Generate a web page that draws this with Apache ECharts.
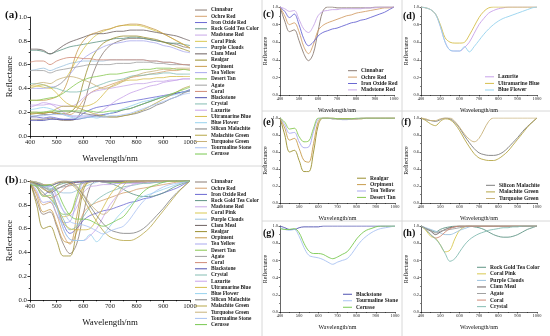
<!DOCTYPE html>
<html>
<head>
<meta charset="utf-8">
<script src="https://cdn.jsdelivr.net/npm/echarts@6/dist/echarts.min.js"></script>
<style>
  html, body { margin: 0; padding: 0; background: #fff; }
  #chart { width: 550px; height: 336px; }
</style>
</head>
<body>
<div id="chart"></div>
<script>
// --- DATA ---
const wl = [400,425,450,475,500,525,550,575,600,625,650,675,700,725,750,775,800,825,850,875,900,925,950,975,1000];

const names = ['Cinnabar','Ochre Red','Iron Oxide Red','Rock Gold Tea Color','Madstone Red','Coral Pink','Purple Clouds','Clam Meal','Realgar','Orpiment','Tea Yellow','Desert Tan','Agate','Coral','Blackstone','Crystal','Lazurite','Ultramarine Blue','Blue Flower','Silicon Malachite','Malachite Green','Turquoise Green','Tourmaline Stone','Cerusse'];
const colors = ['#8a7a72','#d4a06c','#6a68d2','#5f9484','#c8a8e8','#d8c850','#9cc2de','#6c6060','#9a8e2e','#c89c4c','#a8a8ee','#88c850','#a0a0a0','#d08a76','#4e50b0','#84bcb2','#c8a2ea','#d6be4c','#96d2ee','#7e7e7e','#b6a646','#c8b27a','#a8c2f2','#78c850'];

// raw reflectance, panel (a)
const cinnabarRaw = [0.14,0.14,0.14,0.15,0.14,0.13,0.13,0.15,0.25,0.45,0.60,0.70,0.76,0.79,0.81,0.82,0.82,0.82,0.81,0.80,0.79,0.78,0.77,0.75,0.74];
const ochreRaw = [0.20,0.20,0.19,0.20,0.19,0.18,0.18,0.22,0.30,0.36,0.39,0.41,0.43,0.45,0.47,0.49,0.50,0.51,0.52,0.53,0.54,0.55,0.55,0.56,0.56];
const ironRaw = [0.16,0.16,0.15,0.16,0.15,0.14,0.14,0.15,0.19,0.22,0.24,0.25,0.26,0.27,0.28,0.29,0.30,0.31,0.32,0.33,0.34,0.35,0.36,0.37,0.38];
const rockGoldRaw = [0.72,0.72,0.71,0.69,0.71,0.73,0.75,0.76,0.77,0.78,0.79,0.80,0.81,0.82,0.82,0.83,0.83,0.82,0.81,0.80,0.79,0.78,0.78,0.77,0.76];
const madstoneRaw = [0.26,0.26,0.26,0.27,0.26,0.25,0.25,0.27,0.32,0.36,0.38,0.39,0.40,0.41,0.42,0.43,0.44,0.44,0.45,0.46,0.46,0.47,0.47,0.48,0.48];
const coralPinkRaw = [0.42,0.42,0.41,0.40,0.42,0.46,0.54,0.64,0.73,0.80,0.85,0.88,0.90,0.92,0.93,0.93,0.93,0.92,0.90,0.88,0.86,0.83,0.80,0.77,0.74];
const purpleCloudsRaw = [0.55,0.56,0.57,0.55,0.57,0.59,0.61,0.62,0.63,0.63,0.63,0.63,0.64,0.64,0.64,0.64,0.64,0.64,0.63,0.63,0.62,0.62,0.61,0.60,0.60];
const clamMealRaw = [0.73,0.73,0.72,0.69,0.72,0.76,0.79,0.81,0.83,0.85,0.86,0.86,0.87,0.88,0.88,0.89,0.89,0.89,0.88,0.87,0.86,0.85,0.84,0.82,0.80];
const realgarRaw = [0.19,0.19,0.19,0.20,0.19,0.19,0.20,0.26,0.45,0.62,0.72,0.78,0.81,0.83,0.84,0.84,0.84,0.83,0.82,0.81,0.79,0.77,0.75,0.73,0.71];
const orpimentRaw = [0.30,0.30,0.30,0.31,0.33,0.38,0.52,0.70,0.80,0.85,0.87,0.89,0.90,0.92,0.93,0.94,0.94,0.93,0.91,0.89,0.86,0.83,0.80,0.77,0.74];
const teaYellowRaw = [0.40,0.40,0.40,0.41,0.42,0.46,0.52,0.59,0.65,0.69,0.72,0.75,0.77,0.78,0.79,0.80,0.80,0.80,0.79,0.78,0.76,0.75,0.73,0.71,0.70];
const desertTanRaw = [0.30,0.30,0.31,0.32,0.33,0.36,0.40,0.44,0.47,0.49,0.50,0.51,0.52,0.52,0.53,0.54,0.55,0.56,0.56,0.57,0.57,0.57,0.56,0.56,0.55];
const agateRaw = [0.55,0.55,0.55,0.53,0.55,0.56,0.57,0.58,0.59,0.60,0.60,0.60,0.60,0.61,0.61,0.61,0.62,0.62,0.62,0.61,0.61,0.60,0.60,0.60,0.59];
const coralRaw = [0.62,0.63,0.63,0.60,0.63,0.65,0.66,0.66,0.65,0.65,0.64,0.64,0.64,0.64,0.64,0.64,0.64,0.64,0.63,0.63,0.62,0.62,0.61,0.60,0.60];
const blackstoneRaw = [0.13,0.13,0.13,0.14,0.14,0.14,0.14,0.14,0.15,0.16,0.17,0.18,0.19,0.20,0.22,0.23,0.25,0.27,0.29,0.31,0.33,0.34,0.36,0.37,0.39];
const crystalRaw = [0.44,0.44,0.43,0.41,0.40,0.38,0.37,0.37,0.38,0.40,0.42,0.44,0.46,0.47,0.48,0.50,0.51,0.51,0.52,0.52,0.53,0.53,0.52,0.52,0.52];
const lazuriteRaw = [0.24,0.26,0.28,0.27,0.24,0.20,0.17,0.16,0.16,0.17,0.19,0.22,0.26,0.30,0.33,0.36,0.38,0.40,0.42,0.43,0.45,0.46,0.47,0.48,0.48];
const ultramarineRaw = [0.40,0.42,0.43,0.41,0.36,0.30,0.26,0.25,0.25,0.26,0.29,0.35,0.41,0.44,0.46,0.47,0.47,0.48,0.48,0.49,0.49,0.50,0.50,0.50,0.50];
const blueFlowerRaw = [0.22,0.23,0.24,0.23,0.21,0.18,0.16,0.15,0.15,0.16,0.15,0.17,0.19,0.21,0.23,0.25,0.27,0.29,0.30,0.32,0.33,0.34,0.35,0.37,0.38];
const siliconMalRaw = [0.16,0.17,0.18,0.18,0.20,0.21,0.21,0.20,0.19,0.18,0.17,0.16,0.16,0.16,0.17,0.18,0.19,0.21,0.23,0.26,0.28,0.31,0.33,0.36,0.38];
const malachiteRaw = [0.18,0.19,0.20,0.20,0.23,0.25,0.25,0.24,0.22,0.20,0.18,0.17,0.16,0.16,0.17,0.18,0.20,0.22,0.25,0.28,0.31,0.34,0.37,0.40,0.42];
const turquoiseRaw = [0.42,0.44,0.45,0.44,0.47,0.49,0.50,0.49,0.47,0.45,0.42,0.40,0.41,0.43,0.46,0.49,0.51,0.53,0.54,0.55,0.56,0.56,0.57,0.57,0.57];
const tourmalineRaw = [0.17,0.17,0.17,0.18,0.18,0.18,0.17,0.17,0.17,0.17,0.16,0.16,0.17,0.17,0.18,0.19,0.21,0.23,0.25,0.27,0.29,0.31,0.33,0.35,0.36];
const cerusseRaw = [0.20,0.20,0.20,0.21,0.21,0.21,0.21,0.21,0.21,0.21,0.20,0.20,0.21,0.21,0.22,0.23,0.25,0.27,0.29,0.31,0.33,0.35,0.37,0.39,0.41];

// continuum removed, panels (b)-(h)
const cinnabarCR = [1.00,0.84,0.72,0.74,0.62,0.47,0.39,0.47,0.72,0.95,1.00,1.00,0.99,0.99,0.99,0.99,0.99,0.99,0.99,0.99,1.00,1.00,1.00,1.00,1.00];
const ochreCR = [1.00,0.90,0.80,0.82,0.72,0.55,0.47,0.57,0.73,0.79,0.82,0.84,0.86,0.88,0.90,0.91,0.93,0.94,0.95,0.96,0.97,0.98,0.99,0.99,1.00];
const ironCR = [1.00,0.95,0.88,0.92,0.80,0.64,0.56,0.60,0.67,0.71,0.73,0.75,0.76,0.78,0.80,0.82,0.83,0.85,0.86,0.88,0.90,0.92,0.94,0.97,1.00];
const rockGoldCR = [1.00,0.97,0.95,0.93,0.96,0.98,0.99,1.00,1.00,1.00,1.00,0.99,0.98,0.96,0.93,0.90,0.88,0.87,0.87,0.88,0.90,0.93,0.96,0.98,1.00];
const madstoneCR = [1.00,0.98,0.95,0.96,0.86,0.75,0.71,0.78,0.90,0.95,0.96,0.97,0.97,0.98,0.98,0.98,0.98,0.98,0.99,0.99,0.99,1.00,1.00,1.00,1.00];
const coralPinkCR = [1.00,0.95,0.88,0.86,0.78,0.70,0.72,0.85,0.95,0.99,1.00,1.00,1.00,1.00,1.00,1.00,1.00,1.00,1.00,1.00,1.00,1.00,1.00,1.00,1.00];
const purpleCloudsCR = [1.00,0.98,0.96,0.94,0.92,0.90,0.90,0.92,0.95,0.97,0.99,1.00,1.00,1.00,1.00,1.00,1.00,1.00,1.00,1.00,1.00,1.00,1.00,1.00,1.00];
const clamMealCR = [1.00,0.97,0.94,0.90,0.93,0.96,0.98,0.99,1.00,1.00,1.00,1.00,1.00,1.00,1.00,1.00,1.00,1.00,1.00,1.00,1.00,1.00,1.00,1.00,1.00];
const realgarCR = [1.00,0.80,0.60,0.62,0.50,0.37,0.37,0.60,0.92,1.00,1.00,0.99,0.99,0.99,0.99,0.99,0.99,0.99,1.00,1.00,1.00,1.00,1.00,1.00,1.00];
const orpimentCR = [1.00,0.88,0.74,0.76,0.64,0.50,0.48,0.70,0.96,1.00,1.00,1.00,0.99,0.99,0.99,0.99,0.99,1.00,1.00,1.00,1.00,1.00,1.00,1.00,1.00];
const teaYellowCR = [1.00,0.92,0.82,0.83,0.72,0.65,0.66,0.84,0.99,1.00,1.00,0.99,0.99,0.98,0.98,0.99,0.99,1.00,1.00,1.00,1.00,1.00,1.00,1.00,1.00];
const desertTanCR = [1.00,0.95,0.87,0.88,0.78,0.72,0.73,0.88,1.00,1.00,1.00,1.00,0.99,0.99,0.99,0.99,1.00,1.00,1.00,1.00,1.00,1.00,1.00,1.00,1.00];
const agateCR = [1.00,0.97,0.95,0.92,0.94,0.95,0.96,0.97,0.98,0.99,1.00,1.00,1.00,1.00,1.00,1.00,1.00,1.00,1.00,1.00,1.00,1.00,1.00,1.00,1.00];
const coralCR = [1.00,0.96,0.90,0.86,0.88,0.93,0.97,0.99,1.00,1.00,1.00,1.00,1.00,1.00,1.00,1.00,1.00,1.00,1.00,1.00,1.00,1.00,1.00,1.00,1.00];
const blackstoneCR = [1.00,0.98,0.96,0.96,0.98,0.99,0.99,0.99,0.99,1.00,1.00,1.00,1.00,1.00,1.00,1.00,1.00,1.00,1.00,1.00,1.00,1.00,1.00,1.00,1.00];
const crystalCR = [1.00,0.96,0.90,0.85,0.78,0.68,0.59,0.62,0.70,0.78,0.84,0.88,0.91,0.93,0.95,0.96,0.97,0.98,0.98,0.99,0.99,1.00,1.00,1.00,1.00];
const lazuriteCR = [1.00,0.99,0.97,0.92,0.78,0.60,0.51,0.50,0.50,0.54,0.60,0.70,0.80,0.87,0.93,0.96,0.98,0.99,1.00,1.00,1.00,1.00,1.00,1.00,1.00];
const ultramarineCR = [1.00,0.99,0.97,0.92,0.80,0.65,0.60,0.59,0.59,0.60,0.68,0.78,0.88,0.95,0.99,1.00,1.00,1.00,1.00,1.00,1.00,1.00,1.00,1.00,1.00];
const blueFlowerCR = [1.00,0.99,0.97,0.92,0.78,0.60,0.51,0.50,0.50,0.55,0.49,0.55,0.62,0.69,0.75,0.80,0.84,0.87,0.89,0.91,0.93,0.95,0.97,0.99,1.00];
const siliconMalCR = [1.00,0.98,0.97,0.96,0.98,1.00,0.99,0.95,0.88,0.79,0.71,0.64,0.59,0.57,0.56,0.56,0.57,0.60,0.65,0.71,0.77,0.84,0.90,0.95,1.00];
const malachiteCR = [1.00,0.97,0.93,0.91,0.96,0.99,0.98,0.93,0.85,0.75,0.66,0.58,0.53,0.51,0.50,0.50,0.52,0.56,0.61,0.68,0.75,0.82,0.89,0.95,1.00];
const turquoiseCR = [1.00,0.99,0.97,0.97,0.99,1.00,1.00,0.96,0.89,0.81,0.75,0.72,0.76,0.86,0.96,1.00,1.00,1.00,1.00,1.00,1.00,1.00,1.00,1.00,1.00];
const tourmalineCR = [0.98,0.96,0.95,0.96,0.88,0.75,0.66,0.64,0.63,0.61,0.58,0.555,0.58,0.60,0.62,0.68,0.76,0.83,0.88,0.92,0.95,0.97,0.98,0.99,1.00];
const cerusseCR = [0.97,0.96,0.96,0.97,0.92,0.80,0.71,0.68,0.68,0.67,0.64,0.62,0.64,0.67,0.70,0.77,0.85,0.91,0.95,0.97,0.99,1.00,1.00,1.00,1.00];

const rawSpectra = [cinnabarRaw, ochreRaw, ironRaw, rockGoldRaw, madstoneRaw, coralPinkRaw, purpleCloudsRaw, clamMealRaw, realgarRaw, orpimentRaw, teaYellowRaw, desertTanRaw, agateRaw, coralRaw, blackstoneRaw, crystalRaw, lazuriteRaw, ultramarineRaw, blueFlowerRaw, siliconMalRaw, malachiteRaw, turquoiseRaw, tourmalineRaw, cerusseRaw];
const crSpectra = [cinnabarCR, ochreCR, ironCR, rockGoldCR, madstoneCR, coralPinkCR, purpleCloudsCR, clamMealCR, realgarCR, orpimentCR, teaYellowCR, desertTanCR, agateCR, coralCR, blackstoneCR, crystalCR, lazuriteCR, ultramarineCR, blueFlowerCR, siliconMalCR, malachiteCR, turquoiseCR, tourmalineCR, cerusseCR];

// groups for the small panels
const groupC = ['Cinnabar','Ochre Red','Iron Oxide Red','Madstone Red'];
const groupD = ['Lazurite','Ultramarine Blue','Blue Flower'];
const groupE = ['Realgar','Orpiment','Tea Yellow','Desert Tan'];
const groupF = ['Silicon Malachite','Malachite Green','Turquoise Green'];
const groupG = ['Blackstone','Tourmaline Stone','Cerusse'];
const groupH = ['Rock Gold Tea Color','Coral Pink','Purple Clouds','Clam Meal','Agate','Coral','Crystal'];

// --- LAYOUT ---
const FONT = 'Liberation Serif';
const panels = [
    { tag: '(a)', grid: { left: 30, top: 17, width: 160, height: 119 }, big: true, label: [5, 10], names: names, raw: true,
      legend: { left: 195, top: 6.9, step: 6.26 } },
    { tag: '(b)', grid: { left: 30, top: 181, width: 160, height: 119 }, big: true, label: [5, 175], names: names,
      legend: { left: 195, top: 178.9, step: 6.2 } },
    { tag: '(c)', grid: { left: 280, top: 7, width: 114, height: 88 }, label: [263, 9], names: groupC,
      legend: { left: 348, top: 67.5, step: 6.4 } },
    { tag: '(d)', grid: { left: 421, top: 7, width: 116, height: 88 }, label: [403, 11], names: groupD,
      legend: { left: 485, top: 73.5, step: 6.6 } },
    { tag: '(e)', grid: { left: 280, top: 118, width: 115, height: 85 }, label: [263, 117], names: groupE,
      legend: { left: 357, top: 175, step: 6.4 } },
    { tag: '(f)', grid: { left: 421, top: 118, width: 116, height: 85 }, label: [401, 117], names: groupF,
      legend: { left: 486, top: 182, step: 6.6 } },
    { tag: '(g)', grid: { left: 280, top: 226, width: 115, height: 86 }, label: [263, 228], names: groupG,
      legend: { left: 343, top: 291, step: 6.5 } },
    { tag: '(h)', grid: { left: 421, top: 226, width: 116, height: 86 }, label: [403, 228], names: groupH,
      legend: { left: 477, top: 264, step: 6.56 } }
];

const chart = echarts.init(document.getElementById('chart'), null, { renderer: 'canvas' });

const grids = [], xAxes = [], yAxes = [], legends = [], series = [], graphics = [];

panels.forEach((p, i) => {
    const big = !!p.big;
    grids.push(p.grid);
    const lineStyle = { color: '#000', width: big ? 0.8 : 0.6 };
    const common = {
        gridIndex: i,
        type: 'value',
        nameLocation: 'middle',
        nameTextStyle: { fontFamily: FONT, fontSize: big ? 8.8 : 6, color: '#111' },
        axisLine: { onZero: false, lineStyle },
        axisTick: { inside: false, length: big ? 2.5 : 1.5, lineStyle },
        minorTick: { show: true, splitNumber: 2, length: big ? 1.3 : 0.8, lineStyle },
        axisLabel: { fontFamily: FONT, fontSize: big ? 6.8 : 4.4, color: '#222', margin: big ? 3 : 2 },
        splitLine: { show: false }
    };
    xAxes.push({ ...common, min: 400, max: 1000, interval: 100, name: 'Wavelength/nm', nameGap: big ? 18 : 12.5,
        axisLabel: { ...common.axisLabel, formatter: v => String(v) } });
    yAxes.push({ ...common, min: 0, max: 1, interval: 0.2, name: 'Reflectance', nameGap: big ? 16 : 10,
        axisLabel: { ...common.axisLabel, formatter: v => v.toFixed(1) } });

    legends.push({
        orient: 'vertical',
        left: p.legend.left,
        top: p.legend.top,
        padding: 0,
        itemGap: 0,
        icon: 'rect',
        itemWidth: big ? 12 : 9,
        itemHeight: 1,
        selectedMode: false,
        data: p.names,
        textStyle: { fontFamily: FONT, fontWeight: 'bold', fontSize: big ? 5.3 : 5.5, lineHeight: p.legend.step, color: '#222', padding: [0, 0, 0, -1] }
    });

    p.names.forEach(n => {
        const k = names.indexOf(n);
        const vals = p.raw ? rawSpectra[k] : crSpectra[k];
        series.push({
            type: 'line',
            name: n,
            xAxisIndex: i,
            yAxisIndex: i,
            data: wl.map((w, j) => [w, vals[j]]),
            smooth: 0.35,
            symbol: 'none',
            color: colors[k],
            lineStyle: { width: big ? 0.8 : 0.9, color: colors[k] },
            emphasis: { disabled: true },
            silent: true
        });
    });

    graphics.push({
        type: 'text',
        left: p.label[0],
        top: p.label[1],
        style: { text: p.tag, font: 'bold ' + (big ? 11 : 10) + 'px ' + FONT, fill: '#111' }
    });
});

// light panel separators
const sep = { stroke: '#d8d8d8', lineWidth: 1 };
graphics.push(
    { type: 'line', shape: { x1: 262, y1: 0, x2: 262, y2: 336 }, style: sep },
    { type: 'line', shape: { x1: 0, y1: 166, x2: 262, y2: 166 }, style: sep },
    { type: 'line', shape: { x1: 262, y1: 111, x2: 550, y2: 111 }, style: sep },
    { type: 'line', shape: { x1: 262, y1: 221, x2: 550, y2: 221 }, style: sep },
    { type: 'line', shape: { x1: 402, y1: 0, x2: 402, y2: 336 }, style: sep }
);

chart.setOption({
    backgroundColor: '#fff',
    animation: false,
    grid: grids,
    xAxis: xAxes,
    yAxis: yAxes,
    legend: legends,
    series: series,
    graphic: graphics
});

window.addEventListener('resize', () => chart.resize());
</script>
</body>
</html>
